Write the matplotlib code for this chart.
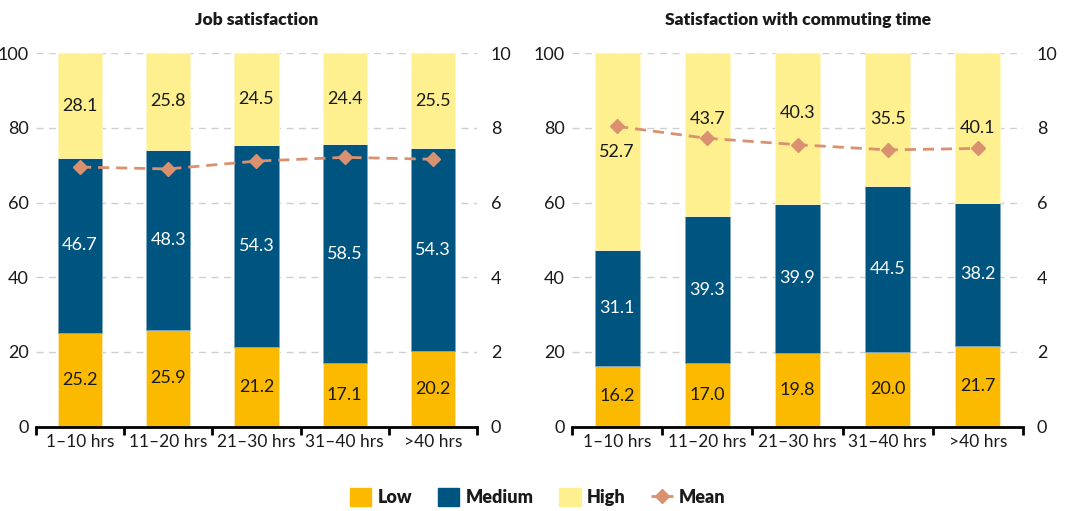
import numpy as np
import matplotlib.pyplot as plt
from matplotlib.patches import Patch
from matplotlib.lines import Line2D

plt.rcParams['font.family'] = ['Lato', 'DejaVu Sans']

categories = ['1\u201310 hrs', '11\u201320 hrs', '21\u201330 hrs', '31\u201340 hrs', '>40 hrs']

# job satisfaction
job_low = [25.2, 25.9, 21.2, 17.1, 20.2]
job_med = [46.7, 48.3, 54.3, 58.5, 54.3]
job_high = [28.1, 25.8, 24.5, 24.4, 25.5]
job_mean = [6.95, 6.90, 7.11, 7.21, 7.16]

# commuting time satisfaction
com_low = [16.2, 17.0, 19.8, 20.0, 21.7]
com_med = [31.1, 39.3, 39.9, 44.5, 38.2]
com_high = [52.7, 43.7, 40.3, 35.5, 40.1]
com_mean = [8.04, 7.72, 7.55, 7.41, 7.45]

# labels moved up a little so they don't sit on the mean line
job_nudge = [0, 0, 0, 0, 0]
com_nudge = [0, 4.2, 4.2, 0, 0]

c_low = '#FBB900'
c_med = '#005480'
c_high = '#FEF08F'
c_mean = '#D99170'
c_text = '#1a1a1a'
fs = 13

fig = plt.figure(figsize=(10.86, 5.11), dpi=100)
ax1 = fig.add_axes([0.0331, 0.165, 0.4061, 0.731])
ax2 = fig.add_axes([0.5267, 0.165, 0.4153, 0.731])


def draw(ax, low, med, high, mean, nudge, title):
    x = np.arange(len(categories))
    low = np.array(low)
    med = np.array(med)
    high = np.array(high)
    ax.bar(x, low, 0.5, color=c_low, edgecolor='#fbe9b0', linewidth=0.6, zorder=2)
    ax.bar(x, med, 0.5, bottom=low, color=c_med, edgecolor='#7fa6bf', linewidth=0.6, zorder=2)
    ax.bar(x, high, 0.5, bottom=low + med, color=c_high, edgecolor='#fff6c4', linewidth=0.6, zorder=2)
    for i in range(len(x)):
        ax.text(x[i], low[i] / 2, '%.1f' % low[i], ha='center', va='center', fontsize=fs, color=c_text, zorder=3)
        ax.text(x[i], low[i] + med[i] / 2, '%.1f' % med[i], ha='center', va='center', fontsize=fs, color='white', zorder=3)
        ax.text(x[i], low[i] + med[i] + high[i] / 2 + nudge[i], '%.1f' % high[i], ha='center', va='center',
                fontsize=fs, color=c_text, zorder=3)
    ax.set_xlim(-0.5, len(x) - 0.5)
    ax.set_ylim(0, 100)
    ax.set_yticks([0, 20, 40, 60, 80, 100])
    ax.yaxis.grid(True, color='#cfcfcf', linestyle=(0, (5, 4)), linewidth=1)
    ax.set_axisbelow(True)
    for s in ['top', 'right', 'left']:
        ax.spines[s].set_visible(False)
    ax.spines['bottom'].set_linewidth(2)
    ax.set_xticks(np.arange(-0.5, len(x), 1))
    ax.set_xticklabels([])
    ax.set_xticks(x, minor=True)
    ax.set_xticklabels(categories, minor=True, fontsize=12.5, color=c_text)
    ax.tick_params(axis='x', which='major', length=6, width=2, direction='out')
    ax.tick_params(axis='x', which='minor', length=0, pad=5)
    ax.tick_params(axis='y', length=0, labelsize=fs, labelcolor=c_text, pad=5)
    ax.set_title(title, fontsize=12.5, fontweight='heavy', pad=20, color=c_text)

    axr = ax.twinx()
    axr.plot(x, mean, color=c_mean, linestyle=(0, (4, 2.5)), linewidth=2,
             marker='D', markersize=7.5, zorder=4)
    axr.set_ylim(0, 10)
    axr.set_yticks([0, 2, 4, 6, 8, 10])
    for s in ['top', 'right', 'left', 'bottom']:
        axr.spines[s].set_visible(False)
    axr.tick_params(axis='y', length=0, labelsize=fs, labelcolor=c_text, pad=10)


draw(ax1, job_low, job_med, job_high, job_mean, job_nudge, 'Job satisfaction')
draw(ax2, com_low, com_med, com_high, com_mean, com_nudge, 'Satisfaction with commuting time')

handles = [Patch(color=c_low), Patch(color=c_med), Patch(color=c_high),
           Line2D([0], [0], color=c_mean, linestyle=(0, (3, 2)), linewidth=2, marker='D', markersize=7)]
leg = fig.legend(handles, ['Low', 'Medium', 'High', 'Mean'], loc='center', bbox_to_anchor=(0.495, 0.027),
                 ncol=4, frameon=False, prop={'weight': 'heavy', 'size': 13},
                 handlelength=1.2, handleheight=1.2, columnspacing=1.4, handletextpad=0.35)
for t in leg.get_texts():
    t.set_color(c_text)

fig.savefig('out.png', dpi=100)
